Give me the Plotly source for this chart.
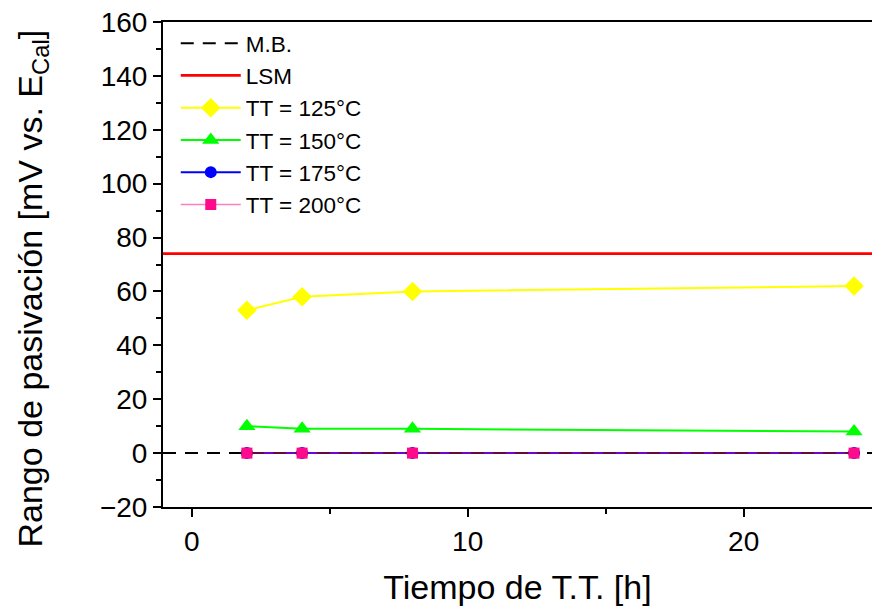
import plotly.graph_objects as go

# Data
time_h = [2, 4, 8, 24]
tt125 = [53, 58, 60, 62]
tt150 = [10, 9, 9, 8]
tt175 = [0, 0, 0, 0]
tt200 = [0, 0, 0, 0]
mb_value = 0
lsm_value = 74
x_range = [-1.04, 24.65]
y_range = [-20, 160]
x_title = "Tiempo de T.T. [h]"
y_title = "Rango de pasivación [mV vs. E<sub>Cal</sub>]"

FONT = "Liberation Sans, Arial, sans-serif"

fig = go.Figure()

fig.add_trace(go.Scatter(x=x_range, y=[lsm_value, lsm_value], mode="lines", name="LSM",
                         line=dict(color="#FF0000", width=2.8), legendrank=2))
fig.add_trace(go.Scatter(x=time_h, y=tt125, mode="lines+markers", name="TT = 125°C",
                         line=dict(color="#FFFF00", width=2),
                         marker=dict(symbol="diamond", size=15, color="#FFFF00"), legendrank=3))
fig.add_trace(go.Scatter(x=time_h, y=tt150, mode="lines+markers", name="TT = 150°C",
                         line=dict(color="#00FF00", width=2),
                         marker=dict(symbol="triangle-up", size=15, color="#00FF00"), legendrank=4))
fig.add_trace(go.Scatter(x=time_h, y=tt175, mode="lines+markers", name="TT = 175°C",
                         line=dict(color="#0000FF", width=2),
                         marker=dict(symbol="circle", size=12, color="#0000FF"), legendrank=5))
fig.add_trace(go.Scatter(x=x_range, y=[mb_value, mb_value], mode="lines", name="M.B.",
                         line=dict(color="black", width=2, dash="13px,9px"), legendrank=1))
fig.add_trace(go.Scatter(x=time_h, y=tt200, mode="lines+markers", name="TT = 200°C",
                         line=dict(color="rgba(255,20,147,0.55)", width=1.5),
                         marker=dict(symbol="square", size=11, color="#FF0A8C"), legendrank=6))

axis_common = dict(
    showgrid=False, zeroline=False, showline=True, linecolor="black", linewidth=2,
    mirror=True, ticks="outside", ticklen=8, tickwidth=2, tickcolor="black",
    tickfont=dict(family=FONT, size=28, color="black"),
)

fig.update_xaxes(range=x_range, tick0=0, dtick=10,
                 minor=dict(ticks="outside", dtick=5, tick0=0, ticklen=5, tickwidth=2, tickcolor="black"),
                 title=dict(text=x_title, font=dict(family=FONT, size=34, color="black"), standoff=20),
                 **axis_common)
fig.update_yaxes(range=y_range, tick0=0, dtick=20,
                 minor=dict(ticks="outside", dtick=10, tick0=0, ticklen=5, tickwidth=2, tickcolor="black"),
                 **axis_common)

fig.add_annotation(text=y_title, textangle=-90, xref="paper", yref="paper",
                   x=0, y=0.5, xanchor="center", yanchor="middle",
                   xshift=-131, yshift=-24, showarrow=False,
                   font=dict(family=FONT, size=34, color="black"))

fig.update_layout(
    width=872, height=609,
    margin=dict(l=163, r=0, t=22, b=102, autoexpand=False),
    plot_bgcolor="white", paper_bgcolor="white",
    showlegend=True,
    legend=dict(x=0.018, y=1.0, xanchor="left", yanchor="top", bgcolor="rgba(0,0,0,0)",
                font=dict(family=FONT, size=22.5, color="black"), tracegroupgap=0,
                itemwidth=60),
)

fig.write_html("out.html", config={"displayModeBar": False},
               post_script="document.body.style.margin='0';document.body.style.padding='0';")
